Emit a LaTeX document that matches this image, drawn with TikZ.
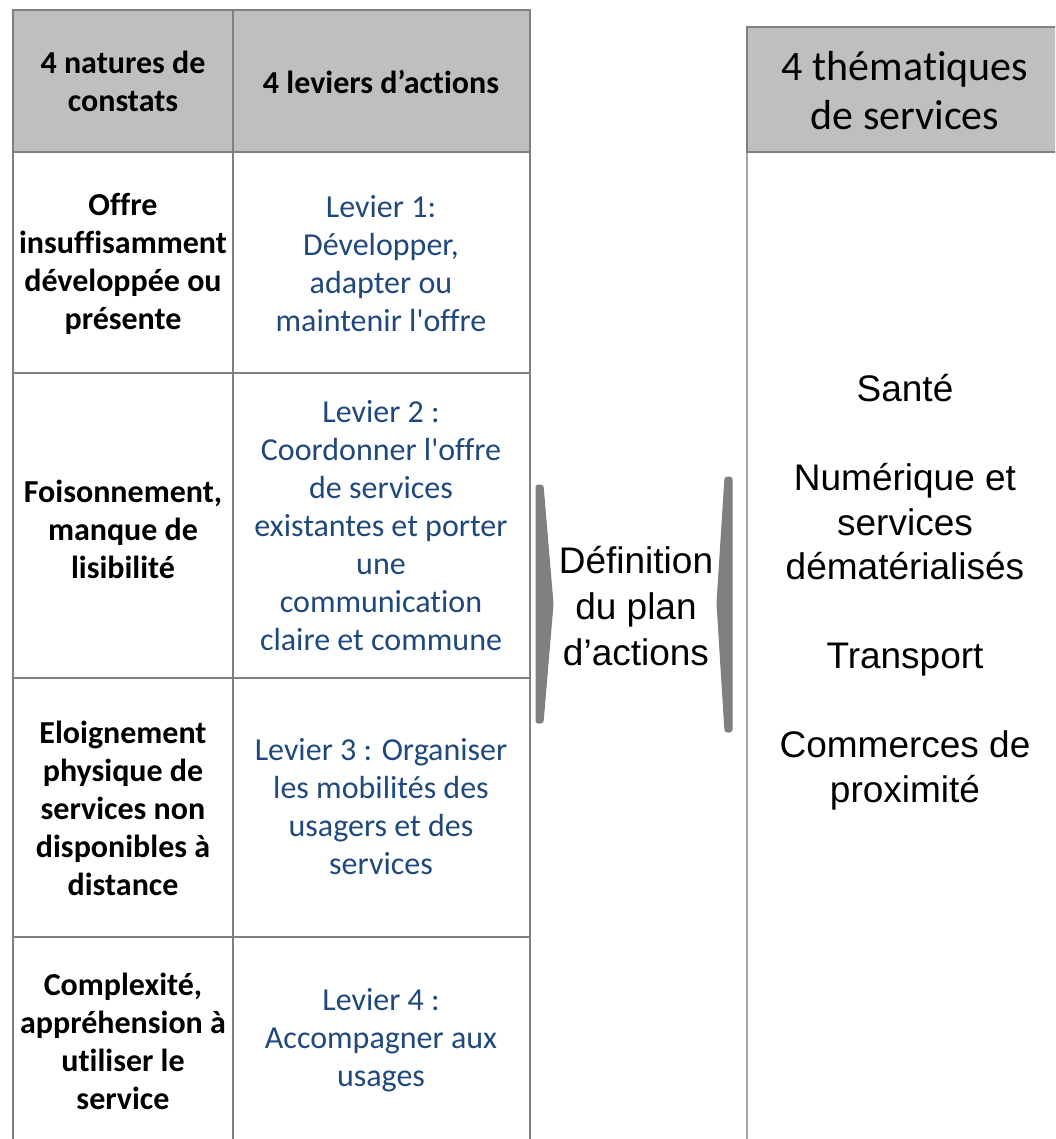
\documentclass[tikz,border=0pt]{standalone}
\usepackage{fontspec}
\setmainfont{Carlito}[Ligatures={TeXOff,NoCommon,NoContextual}]
\newfontfamily\arialfont{Liberation Sans}[Ligatures={TeXOff,NoCommon}]
\usetikzlibrary{calc,positioning}
\definecolor{hdrgray}{HTML}{BFBFBF}
\definecolor{rulegray}{HTML}{808080}
\definecolor{lightrule}{HTML}{A6A6A6}
\definecolor{levblue}{HTML}{1F497D}

\begin{document}
\begin{tikzpicture}[x=1pt,y=-1pt,
    rule/.style={draw=rulegray,line width=2.5pt},
    thinrule/.style={draw=lightrule,line width=2pt},
    natbox/.style={align=center,inner sep=0pt,font=\fontsize{32}{38}\selectfont\bfseries},
    levbox/.style={align=center,inner sep=0pt,text=levblue,font=\fontsize{32}{38}\selectfont},
    thmhead/.style={align=center,inner sep=0pt,font=\fontsize{42}{49}\selectfont},
    thmbox/.style={align=center,inner sep=0pt,font=\arialfont\fontsize{37}{44.5}\selectfont},
    chevron/.style={fill=rulegray,draw=rulegray,line width=1pt,rounded corners=2.5pt}]
       \clip (0,0) rectangle (1055,1139);
       \fill[white] (0,0) rectangle (1055,1139);
       % grey headers
       \fill[hdrgray] (13,10) rectangle (530,152);
       \fill[hdrgray] (747,27) rectangle (1066,152);
       % table rules
       \draw[rule] (13,1139) -- (13,10) -- (530,10) -- (530,1139);
       \draw[rule] (233,10) -- (233,1139);
       \foreach \y in {152,373,678,937}
         \draw[rule] (13,\y) -- (530,\y);
       \draw[rule] (747,152) -- (747,27) -- (1066,27) -- (1066,152) -- cycle;
       \draw[thinrule] (747,153) -- (747,1139);
       % headers
       \node[natbox] (natures) at (123,81) {4 natures de\\constats};
       \node[natbox] (leviers) at (381,82) {4 leviers d’actions};
       \node[thmhead] (themes) at (905,91) {4 thématiques\\de services};
       % constats
       \node[natbox] (offre) at (123,264) {Offre\\insuffisamment\\développée ou\\présente};
       \node[natbox] (foison) at (123,529) {Foisonnement,\\manque de\\lisibilité};
       \node[natbox] (eloign) at (123,808) {Eloignement\\physique de\\services non\\disponibles à\\distance};
       \node[natbox] (complex) at (123,1041) {Complexité,\\appréhension à\\utiliser le\\service};
       % leviers
       \node[levbox] (lev1) at (381,264) {Levier 1:\\Développer,\\adapter ou\\maintenir l'offre};
       \node[levbox] (lev2) at (381,526) {Levier 2 :\\Coordonner l'offre\\de services\\existantes et porter\\une\\communication\\claire et commune};
       \node[levbox] (lev3) at (381,807) {Levier 3 : Organiser\\les mobilités des\\usagers et des\\services};
       \node[levbox] (lev4) at (381,1040) {Levier 4 :\\Accompagner aux\\usages};
       % plan d'actions
       \coordinate (lt) at (536,485);
       \coordinate (lb) at (536,723);
       \coordinate (rt) at (732,477);
       \coordinate (rb) at (732,732);
       \fill[chevron] (lt) -- ++(7,0) -- (553,604) -- ($(lb)+(7,0)$) -- (lb) -- cycle;
       \fill[chevron] (rt) -- ++(-7,0) -- (717,603) -- ($(rb)+(-7,0)$) -- (rb) -- cycle;
       \node[thmbox,font=\arialfont\fontsize{37}{46}\selectfont] (plan) at (636,606) {Définition\\du plan\\d’actions};
       % thematiques
       \node[thmbox] (santes) at (905,592) {Santé\\[44.5pt]Numérique et\\services\\dématérialisés\\[44.5pt]Transport\\[44.5pt]Commerces de\\proximité};
     \end{tikzpicture}
\end{document}
